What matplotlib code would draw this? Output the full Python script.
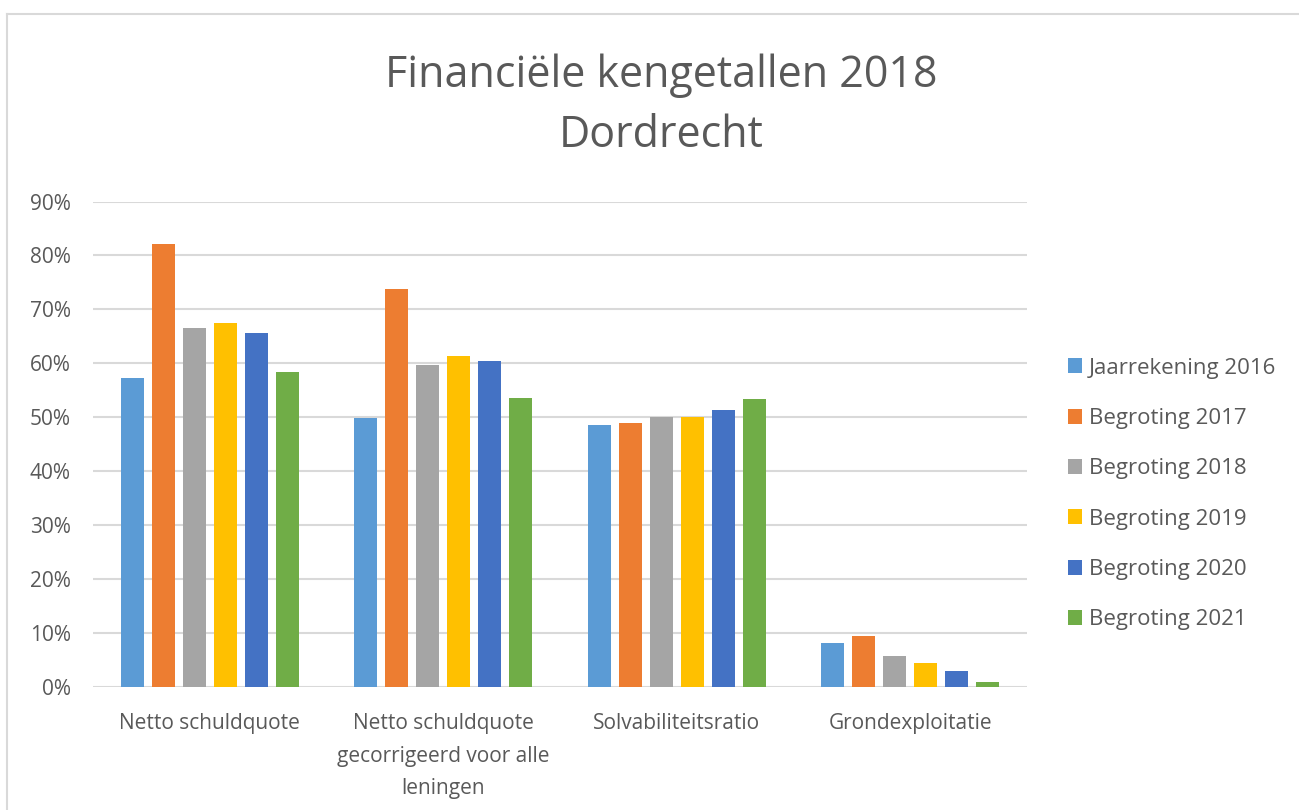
import matplotlib
matplotlib.use("Agg")
import matplotlib.pyplot as plt
from matplotlib.lines import Line2D
import numpy as np

categories = ["Netto schuldquote",
              "Netto schuldquote\ngecorrigeerd voor alle\nleningen",
              "Solvabiliteitsratio",
              "Grondexploitatie"]
series_names = ["Jaarrekening 2016", "Begroting 2017", "Begroting 2018",
                "Begroting 2019", "Begroting 2020", "Begroting 2021"]
jaarrekening_2016 = [57.2, 49.9, 48.5, 8.2]
begroting_2017 = [82.1, 73.8, 48.9, 9.4]
begroting_2018 = [66.6, 59.7, 50.1, 5.7]
begroting_2019 = [67.4, 61.3, 50.1, 4.5]
begroting_2020 = [65.7, 60.5, 51.3, 2.9]
begroting_2021 = [58.4, 53.6, 53.4, 0.9]
yticks = [0, 10, 20, 30, 40, 50, 60, 70, 80, 90]
ytick_labels = ["0%", "10%", "20%", "30%", "40%", "50%", "60%", "70%", "80%", "90%"]

series = [jaarrekening_2016, begroting_2017, begroting_2018,
          begroting_2019, begroting_2020, begroting_2021]
colors = ["#5B9BD5", "#ED7D31", "#A5A5A5", "#FFC000", "#4472C4", "#70AD47"]

plt.rcParams['font.family'] = ['Open Sans', 'DejaVu Sans']
text_color = "#595959"

W, H = 1299, 810
fig = plt.figure(figsize=(W / 100, H / 100), dpi=100)
fig.patch.set_facecolor("white")

# chart border (top and left visible)
fig.add_artist(Line2D([7 / W, 7 / W], [0, 1 - 13.5 / H], transform=fig.transFigure,
                      color="#d9d9d9", lw=1.5))
fig.add_artist(Line2D([7 / W, 1], [1 - 13.5 / H, 1 - 13.5 / H], transform=fig.transFigure,
                      color="#d9d9d9", lw=1.5))

left, right = 93 / W, 1027 / W
bottom, top = 1 - 687 / H, 1 - 201.5 / H
ax = fig.add_axes([left, bottom, right - left, top - bottom])

x = np.arange(len(categories))
pitch = 0.1326
width = 0.098
n = len(series)
for i, (vals, c, name) in enumerate(zip(series, colors, series_names)):
    offs = (i - (n - 1) / 2) * pitch
    ax.bar(x + offs, vals, width=width, color=c, label=name, zorder=3)

ax.set_xlim(-0.5, len(categories) - 0.5)
ax.set_ylim(0, 90)
ax.set_yticks(yticks)
ax.set_yticklabels(ytick_labels, color=text_color, fontsize=15)
ax.set_xticks(x)
ax.set_xticklabels(categories, color=text_color, fontsize=15, linespacing=1.72, va="top")
ax.tick_params(axis="both", length=0)
ax.tick_params(axis="y", pad=16)
ax.tick_params(axis="x", pad=19)
for s in ax.spines.values():
    s.set_visible(False)
ax.grid(axis="y", color="#d9d9d9", lw=1.5, zorder=0)
ax.set_axisbelow(True)

fig.text(661 / W, 1 - 76 / H, "Financiële kengetallen 2018", ha="center", va="center",
         fontsize=31, color=text_color)
fig.text(661 / W, 1 - 136 / H, "Dordrecht", ha="center", va="center",
         fontsize=31, color=text_color)

leg = ax.legend(loc="center left", bbox_to_anchor=(1068 / W, 1 - 494 / H),
                bbox_transform=fig.transFigure, frameon=False, fontsize=16,
                handlelength=0.65, handleheight=0.65, handletextpad=0.3,
                labelspacing=1.32, borderaxespad=0, borderpad=0)
for t in leg.get_texts():
    t.set_color(text_color)

fig.savefig("out.png", dpi=100, facecolor="white")
